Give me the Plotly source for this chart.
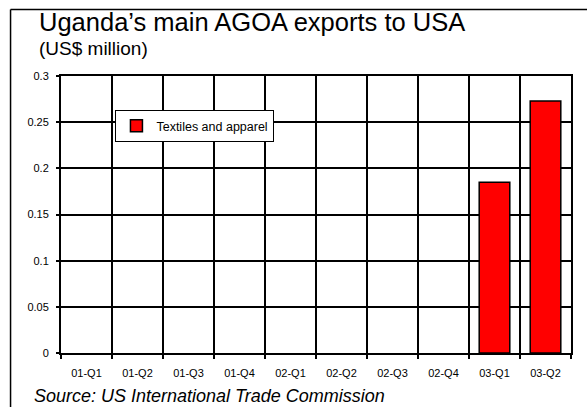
import plotly.graph_objects as go

# Quarterly AGOA exports, US$ million (no shipments recorded before 2003)
quarters = ["01-Q1", "01-Q2", "01-Q3", "01-Q4", "02-Q1", "02-Q2",
            "02-Q3", "02-Q4", "03-Q1", "03-Q2"]
textiles = [None, None, None, None, None, None, None, None, 0.185, 0.273]
y_ticks = [0, 0.05, 0.1, 0.15, 0.2, 0.25, 0.3]
y_tick_text = ["0", "0.05", "0.1", "0.15", "0.2", "0.25", "0.3"]

W, H = 587, 407
L, R, T, B = 60.5, 16, 76, 54
PW, PH = W - L - R, H - T - B


def px(x):
    return (x - L) / PW


def py(y):
    return (H - B - y) / PH


FONT = "Liberation Sans, Arial, sans-serif"

fig = go.Figure()
fig.add_trace(go.Bar(
    x=quarters, y=textiles, name="Textiles and apparel",
    marker=dict(color="#ff0000", line=dict(color="black", width=1.5)),
    width=0.6,
))

fig.update_layout(
    width=W, height=H,
    margin=dict(l=L, r=R, t=T, b=B, autoexpand=False),
    paper_bgcolor="white", plot_bgcolor="white",
    font=dict(family=FONT, size=11, color="black"),
    showlegend=True,
    legend=dict(
        x=px(115), y=py(110), xanchor="left", yanchor="top",
        bgcolor="white", bordercolor="black", borderwidth=1,
        font=dict(family=FONT, size=12.5, color="black"),
        itemwidth=30, tracegroupgap=0,
    ),
    xaxis=dict(
        type="category", tickson="boundaries",
        showgrid=True, gridcolor="black", gridwidth=1.5,
        showline=True, linecolor="black", linewidth=2, mirror=True,
        ticks="outside", ticklen=4, tickcolor="black", tickwidth=1.5,
        ticklabelstandoff=9,
        tickfont=dict(family=FONT, size=11), automargin=False,
    ),
    yaxis=dict(
        range=[0, 0.3], tickvals=y_ticks, ticktext=y_tick_text,
        showgrid=True, gridcolor="black", gridwidth=1.5,
        showline=True, linecolor="black", linewidth=2, mirror=True,
        ticks="outside", ticklen=3, tickcolor="black", tickwidth=1.5,
        ticklabelstandoff=5,
        zeroline=False, tickfont=dict(family=FONT, size=11),
        automargin=False,
    ),
    shapes=[
        # outer chart frame: top and left edges fall inside the page
        dict(type="line", xref="paper", yref="paper",
             x0=px(10), x1=px(590), y0=py(9.5), y1=py(9.5),
             line=dict(color="black", width=1.5)),
        dict(type="line", xref="paper", yref="paper",
             x0=px(10), x1=px(10), y0=py(9.5), y1=py(410),
             line=dict(color="black", width=1.5)),
    ],
    annotations=[
        dict(text="Uganda’s main AGOA exports to USA", xref="paper", yref="paper",
             x=px(36), y=py(22), xanchor="left", yanchor="middle",
             showarrow=False, font=dict(family=FONT, size=25.5, color="black")),
        dict(text="(US$ million)", xref="paper", yref="paper",
             x=px(36), y=py(49), xanchor="left", yanchor="middle",
             showarrow=False, font=dict(family=FONT, size=19, color="black")),
        dict(text="<i>Source: US International Trade Commission</i>",
             xref="paper", yref="paper",
             x=px(31), y=py(396), xanchor="left", yanchor="middle",
             showarrow=False, font=dict(family=FONT, size=18, color="black")),
    ],
)

fig.write_html("out.html")
